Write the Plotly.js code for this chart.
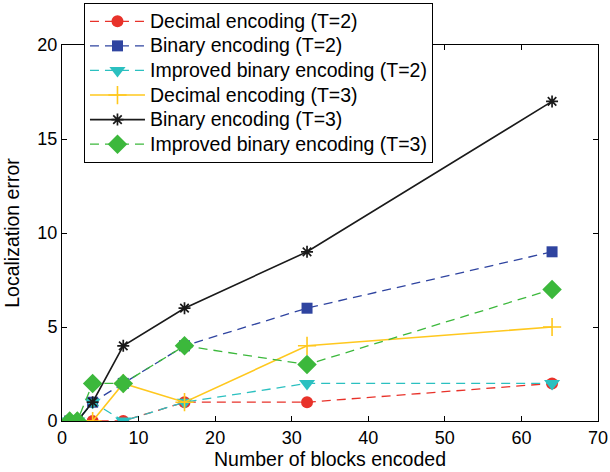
<!DOCTYPE html>
<html>
<head>
<meta charset="utf-8">
<script src="https://cdn.plot.ly/plotly-3.0.1.min.js"></script>
<style>
html,body{margin:0;padding:0;background:#fff;}
#chart{width:610px;height:472px;}
.legendtext{font-size:19.5px !important;}
</style>
</head>
<body>
<div id="chart"></div>
<script>
const blocks = [1, 2, 4, 8, 16, 32, 64];
const decimalT2 = [0, 0, 0, 0, 1, 1, 2];
const binaryT2 = [0, 0, 1, 2, 4, 6, 9];
const improvedT2 = [0, 0, 1, 0, 1, 2, 2];
const decimalT3 = [0, 0, 0, 2, 1, 4, 5];
const binaryT3 = [0, 0, 1, 4, 6, 9, 17];
const improvedT3 = [0, 0, 2, 2, 4, 3, 7];
const names = [
  'Decimal encoding (T=2)',
  'Binary encoding (T=2)',
  'Improved binary encoding (T=2)',
  'Decimal encoding (T=3)',
  'Binary encoding (T=3)',
  'Improved binary encoding (T=3)'
];
const xTicks = [0, 10, 20, 30, 40, 50, 60, 70];
const yTicks = [0, 5, 10, 15, 20];

const FONT = 'Liberation Sans, Arial, sans-serif';
const dash = '9px,6px';
const traces = [
  {x: blocks, y: decimalT2, name: names[0], mode: 'lines+markers',
   line: {color: '#e8322a', width: 1.3, dash: dash},
   marker: {symbol: 'circle', size: 12, color: '#e8322a'}},
  {x: blocks, y: binaryT2, name: names[1], mode: 'lines+markers',
   line: {color: '#2f44a0', width: 1.3, dash: dash},
   marker: {symbol: 'square', size: 11, color: '#2f44a0'}},
  {x: blocks, y: improvedT2, name: names[2], mode: 'lines+markers',
   line: {color: '#2bc0c0', width: 1.3, dash: dash},
   marker: {symbol: 'triangle-down', size: 14, color: '#2bc0c0'}},
  {x: blocks, y: decimalT3, name: names[3], mode: 'lines+markers',
   line: {color: '#ffc81e', width: 1.6},
   marker: {symbol: 'cross-thin-open', size: 13, color: '#ffc81e', line: {color: '#ffc81e', width: 1.6}}},
  {x: blocks, y: binaryT3, name: names[4], mode: 'lines+markers',
   line: {color: '#1a1a1a', width: 1.6},
   marker: {symbol: 'asterisk-open', size: 10, color: '#1a1a1a', line: {color: '#1a1a1a', width: 1.7}}},
  {x: blocks, y: improvedT3, name: names[5], mode: 'lines+markers',
   line: {color: '#3cb83c', width: 1.3, dash: dash},
   marker: {symbol: 'diamond', size: 15, color: '#3cb83c'}}
];

const axisCommon = {
  showline: true, linecolor: '#000', linewidth: 1, mirror: 'ticks',
  ticks: 'inside', ticklen: 5, tickcolor: '#000', tickwidth: 1,
  showgrid: false, zeroline: false,
  tickfont: {family: FONT, size: 18, color: '#000'}
};

const layout = {
  width: 610, height: 472,
  margin: {l: 62, r: 12, t: 45, b: 51, autoexpand: false},
  paper_bgcolor: '#fff', plot_bgcolor: '#fff',
  font: {family: FONT, color: '#000'},
  xaxis: Object.assign({}, axisCommon, {
    range: [0, 70], tickvals: xTicks, ticktext: xTicks.map(String),
    title: {text: 'Number of blocks encoded', font: {family: FONT, size: 19.5}, standoff: 2}
  }),
  yaxis: Object.assign({}, axisCommon, {
    range: [0, 20], tickvals: yTicks, ticktext: yTicks.map(String),
    title: {text: 'Localization error', font: {family: FONT, size: 19.5}, standoff: 12}
  }),
  showlegend: true,
  legend: {
    x: 0.041, y: 1.1117, xanchor: 'left', yanchor: 'top',
    bgcolor: '#fff', bordercolor: '#000', borderwidth: 1,
    font: {family: FONT, size: 16.6, color: '#000'},
    itemwidth: 55, tracegroupgap: 0
  }
};

Plotly.newPlot('chart', traces, layout, {displayModeBar: false, staticPlot: true});
</script>
</body>
</html>
